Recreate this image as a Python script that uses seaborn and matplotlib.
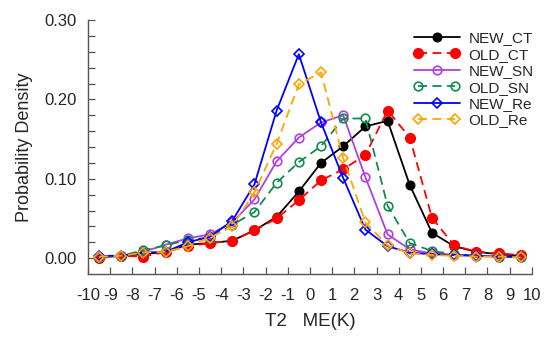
import matplotlib as mpl
mpl.use("Agg")
import matplotlib.pyplot as plt
from matplotlib.legend_handler import HandlerLine2D
from matplotlib.ticker import MultipleLocator, FixedLocator
import numpy as np
import seaborn as sns

# bin centres of T2 mean error (K)
me_bins = [-9.5, -8.5, -7.5, -6.5, -5.5, -4.5, -3.5, -2.5, -1.5, -0.5,
           0.5, 1.5, 2.5, 3.5, 4.5, 5.5, 6.5, 7.5, 8.5, 9.5]

new_ct = [0.001, 0.003, 0.005, 0.008, 0.017, 0.019, 0.022, 0.035, 0.052, 0.084,
          0.120, 0.141, 0.166, 0.173, 0.092, 0.032, 0.015, 0.008, 0.005, 0.003]
old_ct = [0.000, 0.003, 0.002, 0.008, 0.015, 0.019, 0.022, 0.035, 0.050, 0.073,
          0.098, 0.112, 0.130, 0.186, 0.152, 0.051, 0.016, 0.008, 0.006, 0.004]
new_sn = [0.002, 0.003, 0.008, 0.017, 0.025, 0.030, 0.045, 0.074, 0.122, 0.152,
          0.171, 0.180, 0.102, 0.030, 0.011, 0.006, 0.004, 0.003, 0.002, 0.001]
old_sn = [0.002, 0.003, 0.010, 0.016, 0.023, 0.026, 0.042, 0.058, 0.095, 0.121,
          0.141, 0.176, 0.176, 0.066, 0.019, 0.009, 0.005, 0.003, 0.002, 0.001]
new_re = [0.003, 0.003, 0.007, 0.008, 0.020, 0.027, 0.047, 0.093, 0.186, 0.257,
          0.171, 0.101, 0.036, 0.015, 0.007, 0.005, 0.004, 0.003, 0.002, 0.002]
old_re = [0.002, 0.003, 0.007, 0.008, 0.015, 0.026, 0.040, 0.083, 0.144, 0.219,
          0.234, 0.126, 0.045, 0.016, 0.006, 0.004, 0.003, 0.002, 0.002, 0.001]

series_names = ["NEW_CT", "OLD_CT", "NEW_SN", "OLD_SN", "NEW_Re", "OLD_Re"]
series_vals = [new_ct, old_ct, new_sn, old_sn, new_re, old_re]

# style per series: colour, marker, filled, dashed, marker size
styles = {
    "NEW_CT": ("black", "o", True, False, 6),
    "OLD_CT": ("red", "o", True, True, 6.8),
    "NEW_SN": ("#b040e0", "o", False, False, 6.2),
    "OLD_SN": ("#108c50", "o", False, True, 6.2),
    "NEW_Re": ("blue", "D", False, False, 4.6),
    "OLD_Re": ("orange", "D", False, True, 4.6),
}

sns.set_style("ticks")
plt.rcParams['font.family'] = ['Liberation Sans', 'DejaVu Sans']
plt.rcParams['axes.unicode_minus'] = False

fig = plt.figure(figsize=(5.5, 3.4), dpi=100)
ax = fig.add_axes([0.16, 0.194, 0.807, 0.747])

for name, vals in zip(series_names, series_vals):
    col, mk, filled, dashed, ms = styles[name]
    sns.lineplot(x=me_bins, y=vals, ax=ax, color=col, marker=mk,
                 markersize=ms, linewidth=1.3,
                 markerfacecolor=col if filled else "none",
                 markeredgecolor=col, markeredgewidth=1.2,
                 linestyle=(0, (5, 3)) if dashed else "-",
                 label=name)

ax.set_xlim(-10, 10)
ax.set_ylim(-0.02, 0.30)
ax.xaxis.set_major_locator(MultipleLocator(1))
ax.set_yticks([0.0, 0.1, 0.2, 0.3])
ax.set_yticklabels(["0.00", "0.10", "0.20", "0.30"])
ax.yaxis.set_minor_locator(FixedLocator(np.arange(0.02, 0.30, 0.02)))
ax.tick_params(axis="both", which="major", direction="in", length=5, width=0.9,
               color="#555555", labelsize=12)
ax.tick_params(axis="y", which="minor", direction="in", length=5, width=0.9,
               color="#555555", left=True)
ax.tick_params(axis="x", pad=10)
ax.tick_params(axis="y", pad=8)
for s in ["top", "right"]:
    ax.spines[s].set_visible(False)
for s in ["left", "bottom"]:
    ax.spines[s].set_color("#555555")
    ax.spines[s].set_linewidth(1.0)

ax.set_xlabel("T2   ME(K)", fontsize=13.5, labelpad=7)
ax.set_ylabel("Probability Density", fontsize=13, labelpad=8)

lines = ax.get_lines()
hmap = {}
for ln in lines:
    if ln.get_linestyle() != "-":
        hmap[ln] = HandlerLine2D(numpoints=2)
    else:
        hmap[ln] = HandlerLine2D(numpoints=1)
leg = ax.legend(handles=lines, labels=series_names, handler_map=hmap,
                loc="upper left", bbox_to_anchor=(0.72, 0.98), frameon=False,
                fontsize=11, labelspacing=0.16, handlelength=3.0,
                handletextpad=0.6, borderaxespad=0)

fig.savefig("out.png", dpi=100)
